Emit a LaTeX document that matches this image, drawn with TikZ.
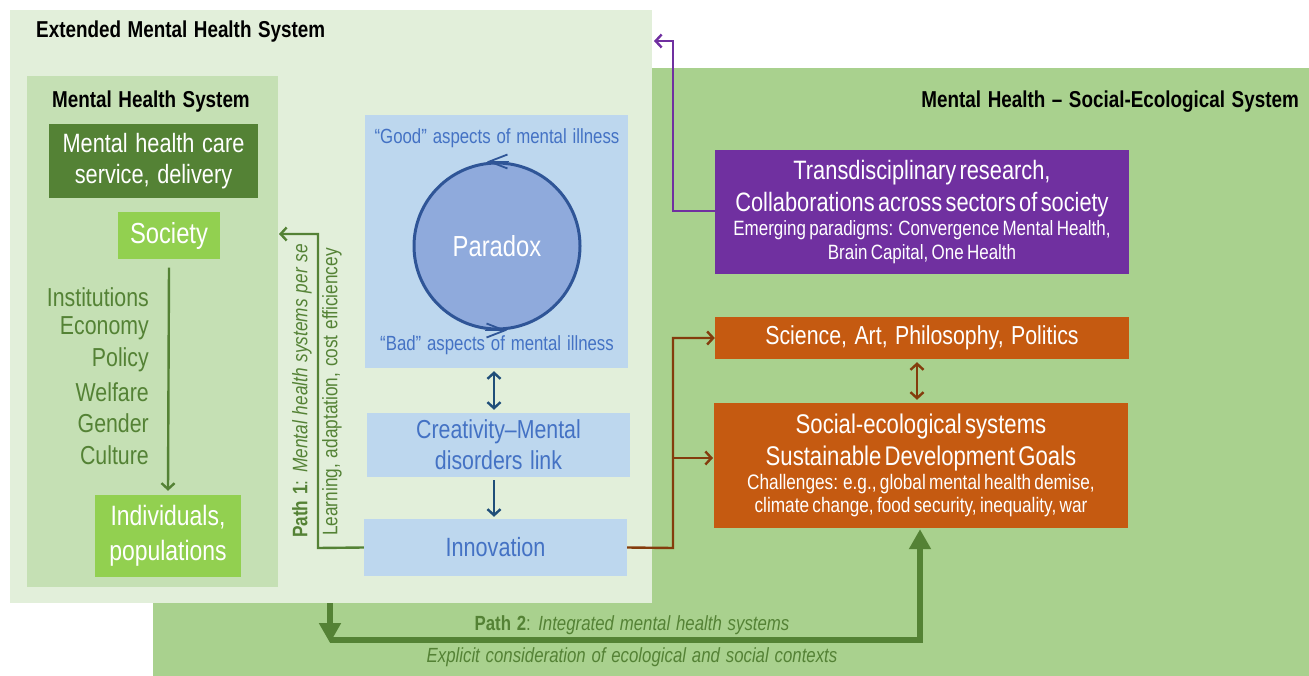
\documentclass[tikz,border=0pt]{standalone}
\usepackage{fontspec}
\setmainfont{Liberation Sans}[FakeStretch=0.82,WordSpace=1.25]
\usetikzlibrary{arrows.meta}
\definecolor{outerg}{HTML}{A9D18E}
\definecolor{extg}{HTML}{E2EFDA}
\definecolor{mhsg}{HTML}{C5E0B4}
\definecolor{darkg}{HTML}{548235}
\definecolor{lightg}{HTML}{92D050}
\definecolor{boxb}{HTML}{BDD7EE}
\definecolor{textb}{HTML}{4472C4}
\definecolor{circf}{HTML}{8FAADC}
\definecolor{circd}{HTML}{2F5597}
\definecolor{arrb}{HTML}{1F4E79}
\definecolor{orng}{HTML}{C55A11}
\definecolor{brown}{HTML}{843C0C}
\definecolor{purp}{HTML}{7030A0}
\newcommand\myfs[2]{\fontsize{#1}{#2}\selectfont}
\begin{document}
\begin{tikzpicture}[x=1pt,y=-1pt,
  box/.style={inner sep=0pt, align=center, text=white},
  barb/.style={-{Straight Barb[length=6pt,width=13pt,line width=2.4pt]}},
  dbarb/.style={{Straight Barb[length=6pt,width=13pt,line width=2.4pt]}-{Straight Barb[length=6pt,width=13pt,line width=2.4pt]}},
  glabel/.style={text=darkg, inner sep=0pt},
  circarr/.style={circd, line width=1.8pt, -{Straight Barb[length=18pt,width=14pt,line width=1.8pt]}}
]
\useasboundingbox (0,0) rectangle (1309,676);
% background areas
\fill[outerg] (153,68) rectangle (1309,676);
\fill[extg] (10,10) rectangle (652,603);
\fill[mhsg] (27,76) rectangle (278,587);
\node[anchor=west, inner sep=0pt, font=\myfs{23}{27}\bfseries] (exttitle) at (36,32) {Extended Mental Health System};
\node[inner sep=0pt, font=\myfs{23}{27}\bfseries] (mhstitle) at (151,102) {Mental Health System};
\node[anchor=east, inner sep=0pt, font=\myfs{23}{27}\bfseries] (sestitle) at (1299,102) {Mental Health -- Social-Ecological System};

% left column
\node[box, fill=darkg, minimum width=209pt, minimum height=74pt, font=\myfs{26.5}{31}] (mhc) at (153.5,161) {Mental health care\\service, delivery};
\node[box, fill=lightg, minimum width=102pt, minimum height=47pt, font=\myfs{29}{32}] (society) at (169,236) {Society};
\node[box, fill=lightg, minimum width=146pt, minimum height=82pt, font=\myfs{28}{35}] (indiv) at (168,536) {Individuals,\\populations};
\draw[darkg, line width=2.4pt, barb] ([yshift=-8pt]society.south) -- ([yshift=4pt]indiv.north);
\foreach \t [count=\i] in {Institutions,Economy,Policy,Welfare,Gender,Culture}
  \node[glabel, anchor=east, font=\myfs{26}{30}] (lab\i) at (149,{297+31.6*(\i-1)}) {\t};

% central column
\node[fill=boxb, minimum width=263pt, minimum height=253pt, inner sep=0pt] (pbox) at (496.5,241.5) {};
\node[inner sep=0pt, text=textb, font=\myfs{20.5}{24}] (good) at (497,138) {``Good'' aspects of mental illness};
\node[inner sep=0pt, text=textb, font=\myfs{20.5}{24}] (bad) at (497,345) {``Bad'' aspects of mental illness};
\node[circle, fill=circf, draw=circd, line width=3pt, minimum size=166pt, inner sep=0pt, text=white, font=\myfs{29}{33}] (paradox) at (497,246) {Paradox};
\draw[circarr] ([xshift=12pt]paradox.north) -- ([xshift=-10pt]paradox.north);
\draw[circarr] ([xshift=-12pt]paradox.south) -- ([xshift=10pt]paradox.south);
\node[box, fill=boxb, text=textb, minimum width=263pt, minimum height=64pt, font=\myfs{26}{31}] (creat) at (498.5,445) {Creativity--Mental\\disorders link};
\node[box, fill=boxb, text=textb, minimum width=263pt, minimum height=57pt, font=\myfs{26.4}{30}] (innov) at (495.5,547.5) {Innovation};
\draw[arrb, line width=2.6pt, dbarb] ([xshift=-2.5pt,yshift=-3pt]pbox.south) -- ([xshift=-4.5pt,yshift=3pt]creat.north);
\draw[arrb, line width=2.6pt, barb] ([xshift=-4.5pt,yshift=-3pt]creat.south) -- ([xshift=-1.5pt,yshift=2pt]innov.north);

% path 1
\coordinate (p1turn) at (318,548);
\coordinate (p1end) at (279,234);
\draw[darkg, line width=2.4pt, barb] (innov.west) -- (p1turn) |- (p1end);
\node[glabel, rotate=90, font=\myfs{21}{25}] (p1a) at (302,391) {\textbf{Path 1}: \textit{Mental health systems per se}};
\node[glabel, rotate=90, font=\myfs{21}{25}] (p1b) at (332,392) {Learning, adaptation, cost efficiencey};

% right column
\node[box, fill=purp, text width=410pt, minimum width=414pt, minimum height=124pt] (purple) at (922,212)
  {\myfs{26.6}{32}Transdisciplinary research,\\Collaborations across sectors of society\par
   \myfs{20.7}{24}Emerging paradigms: Convergence Mental Health,\\Brain Capital, One Health\par};
\node[box, fill=orng, minimum width=414pt, minimum height=42pt, font=\myfs{26}{30}] (science) at (922,338) {Science, Art, Philosophy, Politics};
\node[box, fill=orng, text width=410pt, minimum width=414pt, minimum height=125pt] (ses) at (921,465.5)
  {\myfs{27}{32}Social-ecological systems\\Sustainable Development Goals\par
   \myfs{21}{23.5}Challenges: e.g., global mental health demise,\\climate change, food security, inequality, war\par};
\draw[brown, line width=2.6pt, dbarb] ([xshift=-5pt,yshift=-3pt]science.south) -- ([xshift=-4pt,yshift=3pt]ses.north);

% orange connectors
\coordinate (oturn) at (673,548);
\coordinate (osplit) at (673,458);
\coordinate (sestip) at (713,458);
\draw[brown, line width=2.4pt, barb] (innov.east) -- (oturn) |- (science.west);
\draw[brown, line width=2.4pt, barb] (osplit) -- (sestip);

% purple connector
\coordinate (puturn) at (673,211);
\coordinate (puend) at (654,41);
\draw[purp, line width=2.6pt, barb] (purple.west |- puturn) -- (puturn) |- (puend);

% path 2
\coordinate (p2start) at (330,603);
\coordinate (p2corner) at (330,643);
\coordinate (p2line) at (330,640);
\coordinate (p2right) at (920,640);
\draw[darkg, line width=6.5pt, -{Triangle[length=20pt,width=21pt]}] (p2start) -- (p2corner);
\draw[darkg, line width=6.5pt, -{Triangle[length=20pt,width=21pt]}] (p2line) -- (p2right) -- ([yshift=-1pt]ses.south -| p2right);
\node[glabel, font=\myfs{20.5}{24}] (p2a) at (632,625) {\textbf{Path 2}: \textit{Integrated mental health systems}};
\node[glabel, font=\myfs{20.5}{24}\itshape] (p2b) at (632,657) {Explicit consideration of ecological and social contexts};
\end{tikzpicture}
\end{document}
